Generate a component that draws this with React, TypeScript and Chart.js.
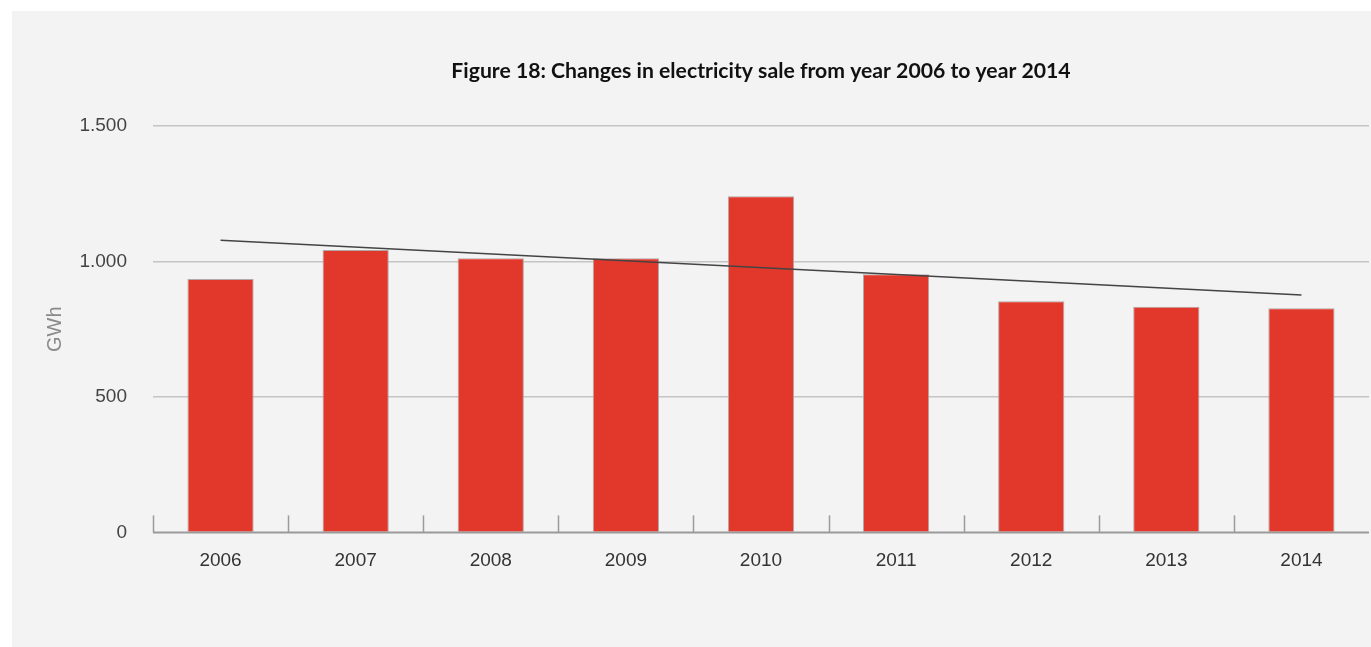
import React, { useEffect, useRef } from "react";
import { Chart, registerables } from "chart.js";

Chart.register(...registerables);

const years = ["2006", "2007", "2008", "2009", "2010", "2011", "2012", "2013", "2014"];
const sales = [935, 1042, 1012, 1012, 1241, 953, 853, 833, 827];
const trendline = [1078, null, null, null, null, null, null, null, 876];
const yTicks = [0, 500, 1000, 1500];
const tickText = ["0", "500", "1.000", "1.500"];

const categoryTicks = {
  id: "categoryTicks",
  afterDatasetsDraw(chart: any) {
    const x = chart.scales.x;
    const y = chart.scales.y;
    const ctx = chart.ctx;
    const base = y.getPixelForValue(0);
    ctx.save();
    ctx.strokeStyle = "#9a9a9a";
    ctx.lineWidth = 2;
    ctx.beginPath();
    ctx.moveTo(chart.chartArea.left, base);
    ctx.lineTo(chart.chartArea.right, base);
    ctx.stroke();
    ctx.lineWidth = 1.5;
    for (let i = 0; i < years.length; i++) {
      const c = x.getPixelForValue(i);
      const half = (x.getPixelForValue(1) - x.getPixelForValue(0)) / 2;
      const px = Math.round(c - half) + 0.5;
      ctx.beginPath();
      ctx.moveTo(px, base);
      ctx.lineTo(px, base - 17);
      ctx.stroke();
    }
    ctx.restore();
  },
};

export default function App() {
  const ref = useRef<HTMLCanvasElement>(null);
  useEffect(() => {
    const chart = new Chart(ref.current!, {
      type: "bar",
      data: {
        labels: years,
        datasets: [
          {
            type: "line",
            data: trendline,
            borderColor: "#444444",
            borderWidth: 1.5,
            pointRadius: 0,
            spanGaps: true,
            order: 0,
          } as any,
          {
            type: "bar",
            data: sales,
            backgroundColor: "#e2382b",
            borderColor: "#b0a8a6",
            borderWidth: 1,
            barPercentage: 0.49,
            categoryPercentage: 1,
            order: 1,
          },
        ],
      },
      options: {
        animation: false,
        responsive: false,
        layout: { padding: { left: 0, right: 2, top: 0, bottom: 58.6 } },
        plugins: {
          legend: { display: false },
          tooltip: { enabled: false },
          title: {
            display: true,
            fullSize: false,
            text: "Figure 18: Changes in electricity sale from year 2006 to year 2014",
            color: "#111111",
            font: { family: "Lato", size: 21.2, weight: "bold" },
            padding: { top: 47, bottom: 42.6 },
          },
        },
        scales: {
          x: {
            grid: { display: false, drawTicks: false },
            border: { display: false },
            ticks: {
              color: "#333333",
              font: { family: "Liberation Sans", size: 19 },
              padding: 16.6,
            },
          },
          y: {
            min: 0,
            max: 1500,
            afterFit: (s: any) => {
              s.width = 141;
            },
            afterBuildTicks: (s: any) => {
              s.ticks = yTicks.map((v) => ({ value: v }));
            },
            grid: {
              color: (c: any) => (c.tick && c.tick.value === 0 ? "rgba(0,0,0,0)" : "#c4c4c4"),
              lineWidth: 1.5,
              drawTicks: false,
            },
            border: { display: false },
            ticks: {
              color: "#444444",
              font: { family: "Liberation Sans", size: 19 },
              padding: 26,
              callback: (v: any) => tickText[yTicks.indexOf(Number(v))] ?? String(v),
            },
            title: {
              display: true,
              text: "GWh",
              color: "#8a8a8a",
              font: { family: "Liberation Sans", size: 20 },
              padding: { top: 31.5, bottom: 0 },
            },
          },
        },
      },
      plugins: [categoryTicks],
    });
    return () => chart.destroy();
  }, []);
  return (
    <div style={{ position: "absolute", left: 0, top: 0, width: 1371, height: 647, background: "#ffffff" }}>
      <div style={{ position: "absolute", left: 12, top: 11, width: 1359, height: 636, background: "#f3f3f3" }}>
        <canvas ref={ref} width={1359} height={636} />
      </div>
    </div>
  );
}
